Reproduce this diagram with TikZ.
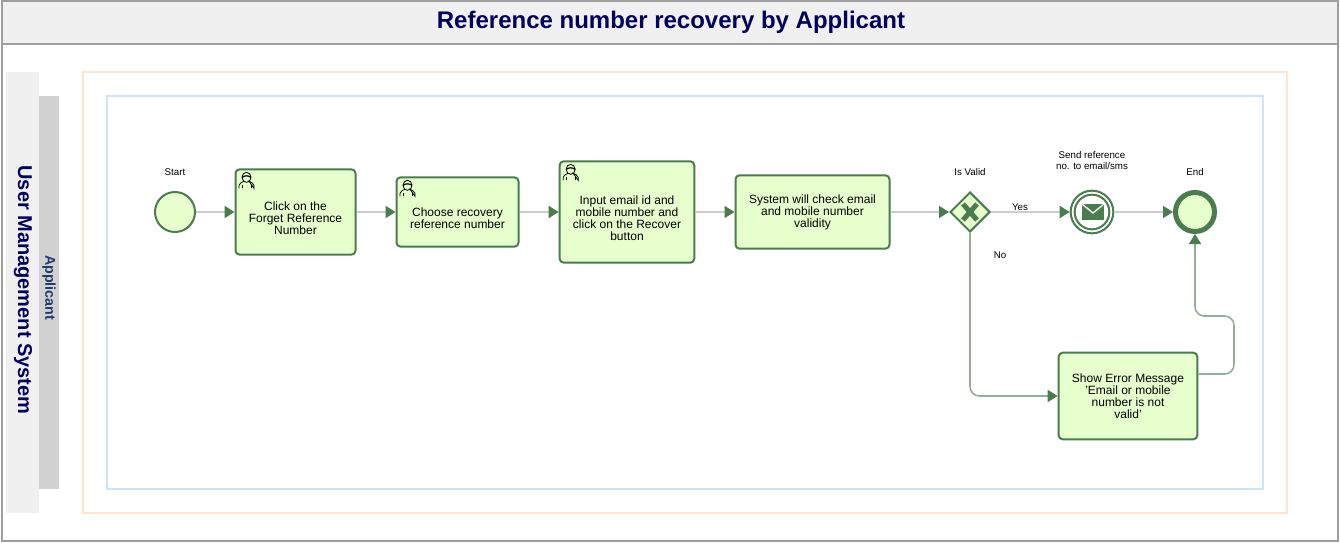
\documentclass[tikz,border=0pt]{standalone}
\usepackage{fontspec}
\setmainfont{Liberation Sans}
\usetikzlibrary{arrows.meta,shapes.geometric}
\definecolor{bpmngreen}{HTML}{4A7C4E}
\definecolor{bpmnfill}{HTML}{E6FFCC}
\definecolor{edgegray}{HTML}{CCCCCC}
\definecolor{routegreen}{HTML}{8FB293}
\definecolor{titlenavy}{HTML}{00005F}
\definecolor{lanenavy}{HTML}{1F3A6E}
\definecolor{poolorange}{HTML}{FFE5CC}
\definecolor{laneblue}{HTML}{CCE5FF}
\tikzset{
    tasknode/.style={draw=bpmngreen, fill=bpmnfill, line width=1.5pt, rounded corners=3pt, align=center, inner sep=0pt, font=\fontsize{9}{9}\selectfont},
    eventnode/.style={circle, draw=bpmngreen, fill=bpmnfill, line width=1.5pt, inner sep=0pt},
    gatenode/.style={diamond, draw=bpmngreen, fill=bpmnfill, line width=1.5pt, inner sep=0pt, minimum width=30pt, minimum height=30pt},
    smalltext/.style={align=center, inner sep=0pt, font=\fontsize{7.3}{8.25}\selectfont},
    flow/.style={edgegray, line width=1.5pt, -{Triangle[color=bpmngreen, length=7.5pt, width=9pt]}},
    route/.style={routegreen, line width=1.2pt, rounded corners=7pt, -{Triangle[color=bpmngreen, length=7.5pt, width=9pt]}},
    usericon/.pic={
        \draw[line width=0.6pt] (-7.5,8) -- (-7.5,5) .. controls (-7.5,2.5) and (-4,2) .. (-2.5,1) (2.5,1) .. controls (4,2) and (7.5,2.5) .. (7.5,5) -- (7.5,8) -- cycle;
        \draw[line width=0.6pt] (-4.5,8) -- (-4.5,5) (4.5,8) -- (4.5,5);
        \draw[line width=0.6pt] (0,-3) ellipse (4.5 and 5);
        \draw[line width=0.9pt] (-4.5,-3) .. controls (-2,-5) and (2,-5) .. (4.5,-3);
    }
}
\begin{document}
\begin{tikzpicture}[x=0.75pt, y=-0.75pt]
    \useasboundingbox (0,0) rectangle (1340,543);
    % Frame and header
    \fill[white] (0,0) rectangle (1340,543);
    \fill[black!6] (2,1) rectangle (1338,44);
    \draw[black!38, line width=1.5pt] (2,1) rectangle (1338,541);
    \draw[black!38, line width=1.5pt] (2,44) -- (1338,44);
    \node[font=\fontsize{18}{18}\selectfont\bfseries, text=titlenavy] (title) at (671,22.5) {Reference number recovery by Applicant};
    % Lanes
    \fill[black!6] (6,72) rectangle (39,513);
    \fill[black!18] (39,96) rectangle (59,489);
    \node[rotate=-90, font=\fontsize{15}{15}\selectfont\bfseries, text=titlenavy] (system) at (23,290) {User Management System};
    \node[rotate=-90, font=\fontsize{10.7}{10.7}\selectfont\bfseries, text=lanenavy] (applicant) at (49,287.5) {Applicant};
    \draw[poolorange, line width=1.5pt] (83,72) rectangle (1287,513);
    \draw[laneblue, line width=1.5pt] (107,96) rectangle (1263,489);
    % Tasks
    \node[tasknode, minimum width=90pt, minimum height=64pt] (click) at (295.5,212) {\strut\\Click on the\\Forget Reference\\Number};
    \node[tasknode, minimum width=91.5pt, minimum height=52pt] (choose) at (457.5,212) {\strut\\Choose recovery\\reference number};
    \node[tasknode, minimum width=101pt, minimum height=76pt] (input) at (627,212) {\strut\\Input email id and\\mobile number and\\click on the Recover\\button};
    \node[tasknode, minimum width=115.5pt, minimum height=55pt] (check) at (812.5,212) {System will check email\\and mobile number\\validity};
    \node[tasknode, minimum width=104pt, minimum height=65pt] (error) at (1128,396) {Show Error Message\\'Email or mobile\\number is not\\valid'};
    % User icons
    \foreach \t in {click, choose, input} {
        \path (\t.north west) ++(12,12) pic {usericon};
    }
    % Events
    \node[eventnode, minimum size=30pt] (start) at (175,212) {};
    \node[gatenode] (valid) at (970,212) {};
    \node[eventnode, fill=white, minimum size=32pt] (send) at (1092,212) {};
    \node[eventnode, fill=white, minimum size=26pt] (sendin) at (1092,212) {};
    \node[eventnode, line width=3.75pt, minimum size=29.25pt] (end) at (1195,212) {};
    % Gateway cross and envelope
    \draw[bpmngreen, line width=3.75pt] (963,204) -- (977,220) (977,204) -- (963,220);
    \fill[bpmngreen] (1082,204) rectangle (1104,220);
    \draw[white, line width=1pt] (1082,204) -- (1093,213) -- (1104,204);
    % Flows
    \foreach \a/\b in {start/click, click/choose, choose/input, input/check, check/valid, valid/send, send/end} {
        \draw[flow] (\a) -- (\b);
    }
    \draw[route] (valid.south) |- (error.west);
    \draw[route] ([yshift=16.5pt]error.east) -- (1234,374) -- (1234,316) -- (1195,316) -- (end.south);
    % Labels
    \node[smalltext] (startlabel) at (175,172.5) {Start};
    \node[smalltext] (validlabel) at (970,172.5) {Is Valid};
    \node[smalltext] (sendlabel) at (1092,160.5) {Send reference\\no. to email/sms};
    \node[smalltext] (endlabel) at (1195,172.5) {End};
    \node[smalltext] (yeslabel) at (1020,207) {Yes};
    \node[smalltext] (nolabel) at (1000,255.5) {No};
\end{tikzpicture}
\end{document}
